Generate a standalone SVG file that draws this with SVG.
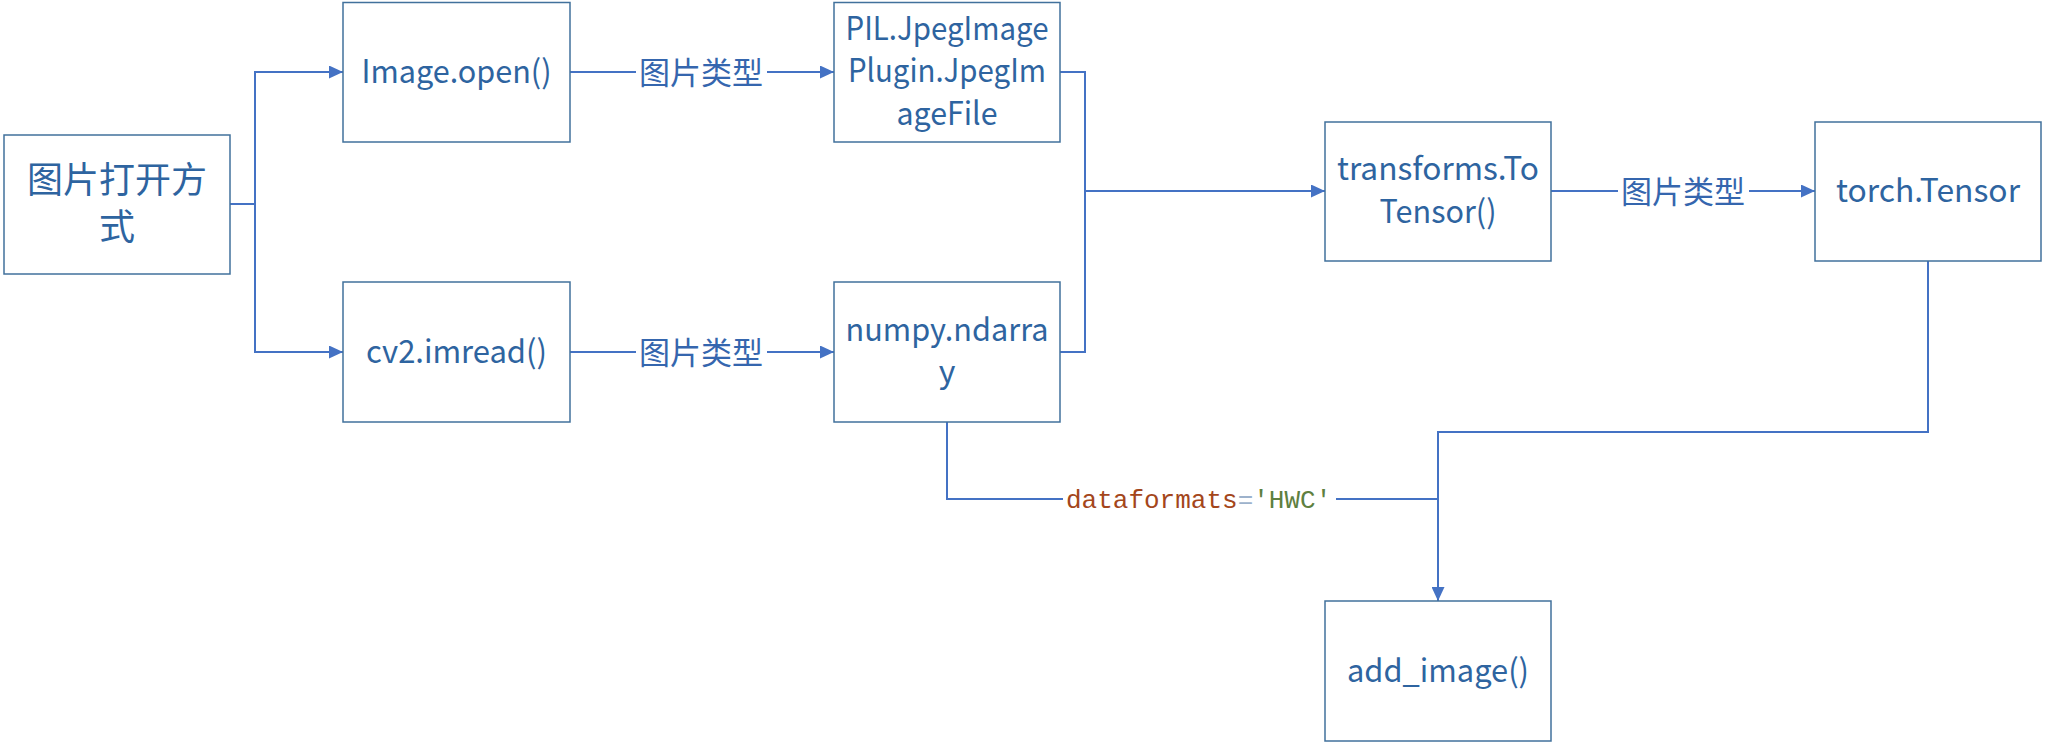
<svg xmlns="http://www.w3.org/2000/svg" width="2046" height="744" viewBox="0 0 2046 744">
<style>
.box{fill:#fff;stroke:#41719C;stroke-width:1.5}
.t{font-family:"Noto Sans CJK SC","Noto Sans",sans-serif;font-size:32px;fill:#2E64A0;text-anchor:middle}
.cjk{font-size:36px}
.lbl{font-family:"Noto Sans CJK SC",sans-serif;font-size:31px;fill:#3566AE;text-anchor:middle}
.c{fill:none;stroke:#4472C4;stroke-width:2}
.code{font-family:"Liberation Mono","DejaVu Sans Mono",monospace;font-size:26px}
</style>
<defs>
<marker id="ah" viewBox="0 0 14 13" refX="14" refY="6.5" markerWidth="14" markerHeight="13" markerUnits="userSpaceOnUse" orient="auto">
<path d="M0,0 L14,6.5 L0,13 Z" fill="#4472C4"/>
</marker>
</defs>
<rect width="2046" height="744" fill="#fff"/>
<g id="connectors">
<path class="c" d="M230,204 H255 V72 H343" marker-end="url(#ah)"/>
<path class="c" d="M255,204 V352 H343" marker-end="url(#ah)"/>
<path class="c" d="M570,72 H834" marker-end="url(#ah)"/>
<path class="c" d="M570,352 H834" marker-end="url(#ah)"/>
<path class="c" d="M1060,72 H1085 V352 H1060"/>
<path class="c" d="M1085,191 H1325" marker-end="url(#ah)"/>
<path class="c" d="M1551,191 H1815" marker-end="url(#ah)"/>
<path class="c" d="M1928,261 V432 H1438 V601" marker-end="url(#ah)"/>
<path class="c" d="M947,422 V499 H1438"/>
<rect x="636" y="52" width="131" height="40" fill="#fff"/>
<text class="lbl" x="701" y="84">图片类型</text>
<rect x="636" y="332" width="131" height="40" fill="#fff"/>
<text class="lbl" x="701" y="364">图片类型</text>
<rect x="1618" y="171" width="131" height="40" fill="#fff"/>
<text class="lbl" x="1683" y="203">图片类型</text>
<rect x="1063" y="480" width="273" height="38" fill="#fff"/>
<text class="code" x="1066" y="508"><tspan fill="#A4461B">dataformats</tspan><tspan fill="#9DB2CC">=</tspan><tspan fill="#5E8040">'HWC'</tspan></text>
</g>
<g id="n-source">
<rect class="box" x="4" y="135" width="226" height="139"/>
<text class="t cjk" x="117" y="193">图片打开方</text>
<text class="t cjk" x="117" y="240">式</text>
</g>
<g id="n-imageopen">
<rect class="box" x="343" y="2.5" width="227" height="139.5"/>
<text class="t" x="456.5" y="83" textLength="190" lengthAdjust="spacingAndGlyphs">Image.open()</text>
</g>
<g id="n-cv2">
<rect class="box" x="343" y="282" width="227" height="140"/>
<text class="t" x="456.5" y="363" textLength="181" lengthAdjust="spacingAndGlyphs">cv2.imread()</text>
</g>
<g id="n-pil">
<rect class="box" x="834" y="2.5" width="226" height="139.5"/>
<text class="t" x="947" y="40" textLength="203" lengthAdjust="spacingAndGlyphs">PIL.JpegImage</text>
<text class="t" x="947" y="82" textLength="198" lengthAdjust="spacingAndGlyphs">Plugin.JpegIm</text>
<text class="t" x="947" y="125" textLength="101" lengthAdjust="spacingAndGlyphs">ageFile</text>
</g>
<g id="n-numpy">
<rect class="box" x="834" y="282" width="226" height="140"/>
<text class="t" x="947" y="341" textLength="203" lengthAdjust="spacingAndGlyphs">numpy.ndarra</text>
<text class="t" x="947" y="383">y</text>
</g>
<g id="n-totensor">
<rect class="box" x="1325" y="122" width="226" height="139"/>
<text class="t" x="1438" y="180" textLength="202" lengthAdjust="spacingAndGlyphs">transforms.To</text>
<text class="t" x="1438" y="223" textLength="117" lengthAdjust="spacingAndGlyphs">Tensor()</text>
</g>
<g id="n-torch">
<rect class="box" x="1815" y="122" width="226" height="139"/>
<text class="t" x="1928" y="202" textLength="184" lengthAdjust="spacingAndGlyphs">torch.Tensor</text>
</g>
<g id="n-addimage">
<rect class="box" x="1325" y="601" width="226" height="140"/>
<text class="t" x="1438" y="682" textLength="182" lengthAdjust="spacingAndGlyphs">add_image()</text>
</g>
</svg>
